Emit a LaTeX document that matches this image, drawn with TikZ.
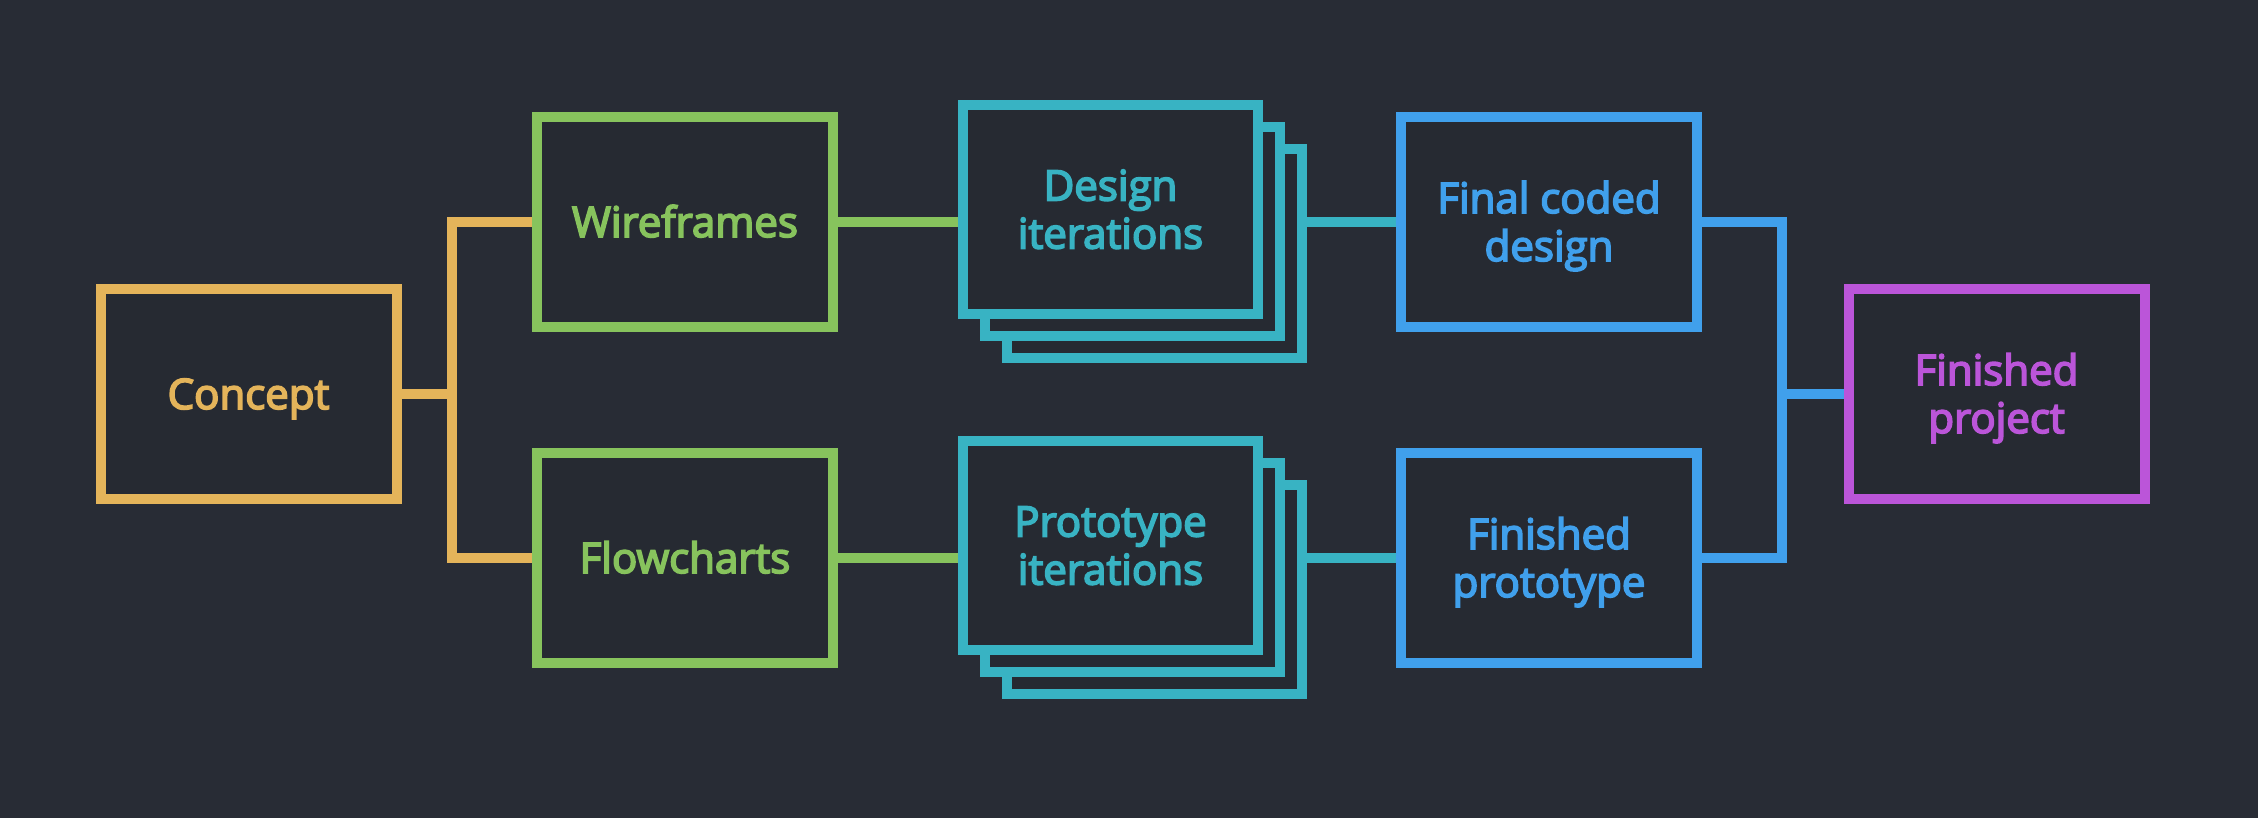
\documentclass[tikz,border=0pt]{standalone}
\usepackage{fontspec}
\setmainfont{Open Sans}
\newfontfamily\lblfont{Open Sans}[FakeBold=4]
\definecolor{bgc}{HTML}{282C35}
\definecolor{boxbg}{HTML}{262A32}
\definecolor{corange}{HTML}{E4B45A}
\definecolor{cgreen}{HTML}{87C35D}
\definecolor{cteal}{HTML}{38B3C3}
\definecolor{cblue}{HTML}{40A0EC}
\definecolor{cpurple}{HTML}{BB55D9}
\pgfdeclarelayer{backlayer}
\pgfdeclarelayer{connlayer}
\pgfsetlayers{backlayer,connlayer,main}
\begin{document}
\begin{tikzpicture}[x=1pt,y=-1pt,
  box/.style={draw, line width=10pt, minimum width=296pt, minimum height=210pt,
    inner sep=0pt, outer sep=0pt, fill=boxbg, align=center,
    font=\fontsize{42}{48}\lblfont},
  stackbox/.style={box, minimum width=295pt, minimum height=209pt, draw=cteal, text=cteal},
  oneline/.style={text height=30pt, text depth=0pt},
  twoline/.style={text height=78pt, text depth=0pt},
  conn/.style={line width=10pt, line join=miter}
]
\begin{pgfonlayer}{backlayer}
\fill[bgc] (0,0) rectangle (2258,818);
\end{pgfonlayer}
\useasboundingbox (0,0) rectangle (2258,818);

\node[box,oneline,draw=corange,text=corange] (concept) at (248.5,394) {Concept};
\node[box,oneline,draw=cgreen,text=cgreen] (wire) at (685,222) {Wireframes};
\node[box,oneline,draw=cgreen,text=cgreen] (flow) at (685,558) {Flowcharts};

\node[stackbox] (des3) at (1154.5,253.5) {};
\node[stackbox] (des2) at (1132.5,231.5) {};
\node[stackbox,twoline] (des1) at (1110.5,209.5) {Design\\iterations};

\node[stackbox] (pro3) at (1154.5,589.5) {};
\node[stackbox] (pro2) at (1132.5,567.5) {};
\node[stackbox,twoline] (pro1) at (1110.5,545.5) {Prototype\\iterations};

\node[box,twoline,draw=cblue,text=cblue] (final) at (1549,222) {Final coded\\design};
\node[box,twoline,draw=cblue,text=cblue] (finp) at (1549,558) {Finished\\prototype};
\node[box,twoline,draw=cpurple,text=cpurple] (proj) at (1996.5,394) {Finished\\project};

\coordinate (oj) at (452,394);
\coordinate (bj) at (1782,394);

\begin{pgfonlayer}{connlayer}
\draw[conn,corange] (concept.east) -- (oj);
\draw[conn,corange] (wire.west) -| (oj) |- (flow.west);
\draw[conn,cgreen] (wire.east) -- (wire.east -| des1.west);
\draw[conn,cgreen] (flow.east) -- (flow.east -| pro1.west);
\draw[conn,cteal] (final.west -| des3.east) -- (final.west);
\draw[conn,cteal] (finp.west -| pro3.east) -- (finp.west);
\draw[conn,cblue] (final.east) -| (bj) |- (finp.east);
\draw[conn,cblue] (bj) -- (proj.west);
\end{pgfonlayer}
\end{tikzpicture}
\end{document}
